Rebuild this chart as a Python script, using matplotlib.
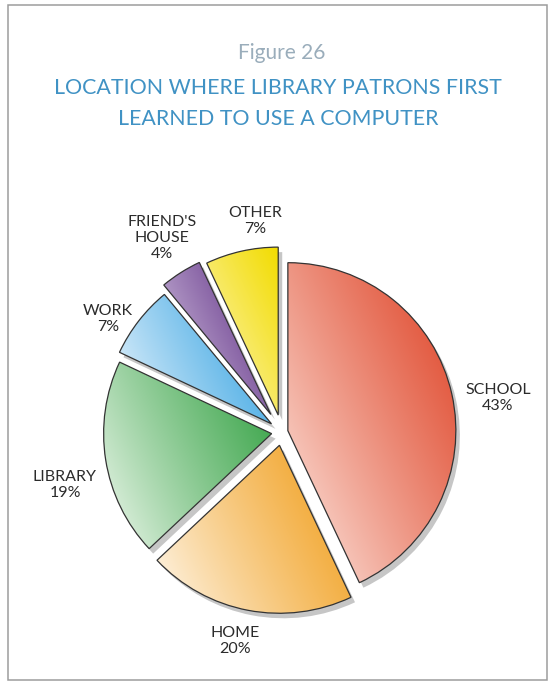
import numpy as np
import matplotlib
matplotlib.use("Agg")
import matplotlib.pyplot as plt
from matplotlib.patches import Rectangle
from matplotlib.colors import to_rgb

# survey shares, clockwise from 12 o'clock
labels = ["SCHOOL", "HOME", "LIBRARY", "WORK", "FRIEND'S\nHOUSE", "OTHER"]
shares = [43, 20, 19, 7, 4, 7]
pcts = ["43%", "20%", "19%", "7%", "4%", "7%"]

# gradient end colours (light side, full side)
light_cols = ["#fff4ee", "#fffaf2", "#f6fbf4", "#f4f9fe", "#e6dcef", "#fff9d8"]
full_cols = ["#de3f22", "#f09a12", "#30a040", "#2a9ee0", "#56237e", "#f2dc00"]

W, H = 550, 686
R = 168
center = (282, H - 432)
# explode offsets in pixels (pie uses data units here)
explode = [6, 13.5, 10.5, 13.3, 20.8, 17.3]

# label anchor points (x, y from top)
label_pos = [(498, 398), (235, 641), (65, 485), (108, 319), (162, 238), (255, 221)]

plt.rcParams["font.family"] = ["Lato", "DejaVu Sans"]

fig = plt.figure(figsize=(W / 100, H / 100), dpi=100)
ax = fig.add_axes([0, 0, 1, 1])

# drop shadow: same pie shifted down-right
ax.pie(shares, explode=explode, startangle=90, counterclock=False,
       radius=R, center=(center[0] + 4, center[1] - 5),
       colors=["#c6c6c6"] * len(shares), frame=True,
       wedgeprops=dict(linewidth=0, zorder=1))

wedges, _ = ax.pie(shares, explode=explode, startangle=90, counterclock=False,
                   radius=R, center=center, frame=True,
                   wedgeprops=dict(facecolor="none", edgecolor="#333333",
                                   linewidth=0.9, zorder=3))
ax.set_xlim(0, W)
ax.set_ylim(0, H)
ax.set_aspect("equal")
ax.axis("off")

# gradient fill clipped to each wedge (light lower-left -> saturated right)
ang = np.deg2rad(25)
for w, c0, c1 in zip(wedges, light_cols, full_cols):
    ext = w.get_path().get_extents()
    x0, y0, x1, y1 = ext.x0, ext.y0, ext.x1, ext.y1
    xs = np.linspace(0, 1, 200)
    ys = np.linspace(0, 1, 200)
    gx, gy = np.meshgrid(xs, ys)
    t = gx * np.cos(ang) + gy * np.sin(ang) * (y1 - y0) / max(x1 - x0, 1)
    t = (t - t.min()) / (t.max() - t.min())
    t = np.clip(t, 0, 1) ** 0.85
    a = np.array(to_rgb(c0))
    b = np.array(to_rgb(c1))
    img = a[None, None, :] * (1 - t[..., None]) + b[None, None, :] * t[..., None]
    im = ax.imshow(img, extent=(x0, x1, y0, y1), origin="lower",
                   interpolation="bilinear", zorder=2, aspect="auto")
    im.set_clip_path(w)

for lab, p, (x, y) in zip(labels, pcts, label_pos):
    ax.text(x, H - y, lab + "\n" + p, ha="center", va="center",
            multialignment="center", fontsize=11.5, color="#2b2b2b",
            linespacing=1.2)

ax.text(282, H - 53, "Figure 26", ha="center", va="center",
        fontsize=15, color="#9aadbb")
ax.text(278, H - 88, "LOCATION WHERE LIBRARY PATRONS FIRST", ha="center",
        va="center", fontsize=15.4, color="#4092c4")
ax.text(278, H - 119, "LEARNED TO USE A COMPUTER", ha="center",
        va="center", fontsize=15.4, color="#4092c4")

ax.add_patch(Rectangle((8, H - 680), 539, 675, fill=False,
                       edgecolor="#9c9c9c", linewidth=1.1, zorder=5))

fig.savefig("out.png", dpi=100)
